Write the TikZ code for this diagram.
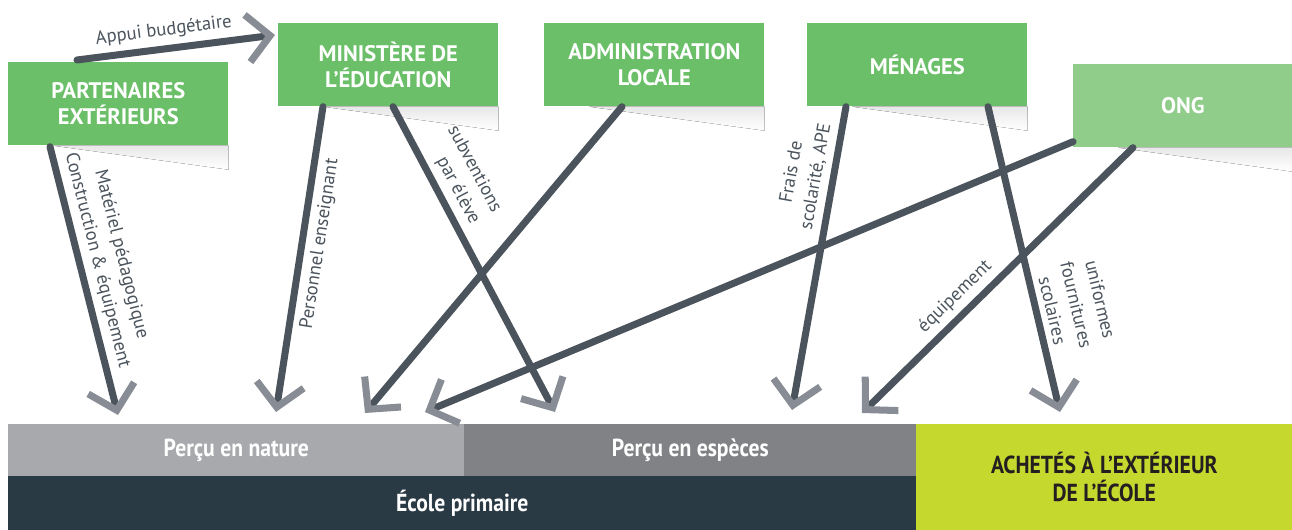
\documentclass[tikz,border=0pt]{standalone}
\usepackage{fontspec}
\setmainfont{PT Sans}
\newfontfamily\narrowfont{PT Sans}[FakeStretch=0.88]
\usetikzlibrary{arrows.meta,calc}

\definecolor{boxgreen}{RGB}{107,191,104}
\definecolor{onggreen}{RGB}{144,204,138}
\definecolor{flowgray}{RGB}{75,84,93}
\definecolor{tipgray}{RGB}{136,141,149}
\definecolor{naturegray}{RGB}{167,169,172}
\definecolor{especesgray}{RGB}{128,130,133}
\definecolor{ecolenavy}{RGB}{42,58,69}
\definecolor{achatlime}{RGB}{197,216,46}
\definecolor{achattext}{RGB}{35,31,32}

\tikzset{
  source/.style={fill=boxgreen,text=white,font=\bfseries\fontsize{12.8}{15}\selectfont,align=center,
    minimum width=4.4cm,minimum height=1.66cm,anchor=north west,inner sep=0pt},
  flow/.style={draw=flowgray,line width=4pt,line cap=round,
    -{Straight Barb[length=13pt,width=27pt,color=tipgray]}},
  lbl/.style={font=\fontsize{10.6}{14}\selectfont,text=flowgray,align=center,sloped},
  bar/.style={anchor=north west,text=white,font=\narrowfont\bfseries\fontsize{14}{16}\selectfont,inner sep=0pt}
}

\begin{document}
\begin{tikzpicture}[x=0.02cm,y=-0.02cm]
\useasboundingbox (0,0) rectangle (1292,530);

% sources
\node [source] (part) at (8,62) {PARTENAIRES\\EXTÉRIEURS};
\node [source] (min) at (278,23) {MINISTÈRE DE\\L'ÉDUCATION};
\node [source] (adm) at (544,23) {ADMINISTRATION\\LOCALE};
\node [source] (men) at (807,23) {MÉNAGES};
\node [source,fill=onggreen,minimum width=4.38cm] (ong) at (1073,64) {ONG};

\foreach \b in {part,min,adm,men,ong}
  \fill [top color=black!9,bottom color=white] ($(\b.south west)+(45,0)$) -- (\b.south east) -- ($(\b.south east)+(0,24)$) -- cycle;

% ecole
\node [bar,fill=naturegray,minimum width=9.12cm,minimum height=1.04cm] (nature) at (8,424) {Perçu en nature};
\node [bar,fill=especesgray,minimum width=9.04cm,minimum height=1.04cm] (especes) at (464,424) {Perçu en espèces};
\node [bar,fill=ecolenavy,minimum width=18.16cm,minimum height=1.08cm] (ecole) at (8,476) {École primaire};
\node [bar,fill=achatlime,text=achattext,align=center,minimum width=7.52cm,minimum height=2.12cm] (achetes) at (916,424) {ACHETÉS À L’EXTÉRIEUR\\DE L’ÉCOLE};

% flux
\draw [flow] ($(part.north west)+(69,-2)$) -- node[lbl,pos=.45,above]{Appui budgétaire} ($(min.north west)+(-3,12)$);
\draw [flow] ($(part.south west)+(42,1)$) -- node[lbl,pos=.44,above]{Matériel pédagogique\\Construction \& équipement} ($(nature.north west)+(110,-9)$);
\draw [flow] ($(min.south west)+(45,0)$) -- node[lbl,pos=.44,below]{Personnel enseignant} ($(nature.north west)+(268,-12)$);
\draw [flow] ($(adm.south west)+(78,0)$) -- ($(nature.north west)+(357,-11)$);
\draw [flow] ($(min.south west)+(115,0)$) -- node[lbl,pos=.27,above,align=right]{subventions\\par élève} ($(especes.north west)+(91,-12)$);
\draw [flow] ($(ong.south west)+(0,-6)$) -- ($(nature.north west)+(417,-12)$);
\draw [flow] ($(men.south west)+(39,0)$) -- node[lbl,pos=.24,above]{Frais de\\scolarité, APE} ($(especes.north west)+(328,-14)$);
\draw [flow] ($(men.south west)+(181,0)$) -- node[lbl,pos=.68,above]{uniformes\\fournitures\\scolaires} ($(achetes.north west)+(144,-12)$);
\draw [flow] ($(ong.south west)+(60,0)$) -- node[lbl,pos=.61,above]{équipement} ($(especes.north west)+(398,-11)$);
\end{tikzpicture}
\end{document}
